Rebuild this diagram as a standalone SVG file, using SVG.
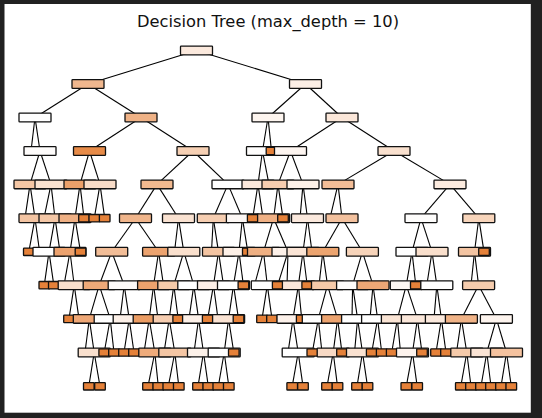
<svg xmlns="http://www.w3.org/2000/svg" width="542" height="418" viewBox="0 0 542 418">
<style>
.e line{stroke:#000;stroke-width:1.1;fill:none}
.n{stroke:#111;stroke-width:1.3}
.f{stroke:#111;stroke-width:1.3;fill:#e58139}
.t{font-family:"DejaVu Sans","Liberation Sans",sans-serif;font-size:16.3px;fill:#111;text-anchor:middle}
</style>
<rect x="0" y="0" width="542" height="418" fill="#212121"/>
<rect x="4.5" y="4" width="526.3" height="408.7" fill="#ffffff"/>
<text class="t" x="268" y="26.5">Decision Tree (max_depth = 10)</text>
<g class="e" id="connectors">
<line x1="196.5" y1="50.5" x2="88" y2="84"/><line x1="196.5" y1="50.5" x2="305.5" y2="84"/>
<line x1="88" y1="84" x2="35" y2="117.5"/><line x1="88" y1="84" x2="141" y2="117.5"/><line x1="305.5" y1="84" x2="268" y2="117.5"/><line x1="305.5" y1="84" x2="342" y2="117.5"/>
<line x1="35" y1="117.5" x2="31" y2="151"/><line x1="35" y1="117.5" x2="40" y2="151"/><line x1="141" y1="117.5" x2="89.5" y2="151"/><line x1="141" y1="117.5" x2="193" y2="151"/><line x1="268" y1="117.5" x2="262.5" y2="151"/><line x1="268" y1="117.5" x2="271.5" y2="151"/><line x1="342" y1="117.5" x2="290.5" y2="151"/><line x1="342" y1="117.5" x2="394" y2="151"/>
<line x1="40" y1="151" x2="30" y2="184.4"/><line x1="40" y1="151" x2="51" y2="184.4"/><line x1="89.5" y1="151" x2="80" y2="184.4"/><line x1="89.5" y1="151" x2="100" y2="184.4"/><line x1="193" y1="151" x2="157" y2="184.4"/><line x1="193" y1="151" x2="228" y2="184.4"/><line x1="262.5" y1="151" x2="258" y2="184.4"/><line x1="262.5" y1="151" x2="269" y2="184.4"/><line x1="290.5" y1="151" x2="278" y2="184.4"/><line x1="290.5" y1="151" x2="303" y2="184.4"/><line x1="394" y1="151" x2="338" y2="184.4"/><line x1="394" y1="151" x2="450" y2="184.4"/>
<line x1="30" y1="184.4" x2="25" y2="218.2"/><line x1="30" y1="184.4" x2="35" y2="218.2"/><line x1="51" y1="184.4" x2="44" y2="218.2"/><line x1="51" y1="184.4" x2="55" y2="218.2"/><line x1="80" y1="184.4" x2="75" y2="218.2"/><line x1="80" y1="184.4" x2="84" y2="218.2"/><line x1="100" y1="184.4" x2="94.3" y2="218.2"/><line x1="100" y1="184.4" x2="104.7" y2="218.2"/><line x1="157" y1="184.4" x2="135.5" y2="218.2"/><line x1="157" y1="184.4" x2="178.5" y2="218.2"/><line x1="228" y1="184.4" x2="213.3" y2="218.2"/><line x1="228" y1="184.4" x2="242.4" y2="218.2"/><line x1="258" y1="184.4" x2="252.7" y2="218.2"/><line x1="258" y1="184.4" x2="263" y2="218.2"/><line x1="278" y1="184.4" x2="273.6" y2="218.2"/><line x1="278" y1="184.4" x2="283" y2="218.2"/><line x1="303" y1="184.4" x2="300" y2="218.2"/><line x1="303" y1="184.4" x2="307.5" y2="218.2"/><line x1="338" y1="184.4" x2="330" y2="218.2"/><line x1="338" y1="184.4" x2="342" y2="218.2"/><line x1="450" y1="184.4" x2="421" y2="218.2"/><line x1="450" y1="184.4" x2="478.8" y2="218.2"/>
<line x1="35" y1="218.2" x2="28.8" y2="251.8"/><line x1="35" y1="218.2" x2="39.6" y2="251.8"/><line x1="55" y1="218.2" x2="49" y2="251.8"/><line x1="55" y1="218.2" x2="60" y2="251.8"/><line x1="75" y1="218.2" x2="70" y2="251.8"/><line x1="75" y1="218.2" x2="80.5" y2="251.8"/><line x1="135.5" y1="218.2" x2="111.7" y2="251.8"/><line x1="135.5" y1="218.2" x2="158.6" y2="251.8"/><line x1="178.5" y1="218.2" x2="174.5" y2="251.8"/><line x1="178.5" y1="218.2" x2="183.8" y2="251.8"/><line x1="213.3" y1="218.2" x2="211.5" y2="251.8"/><line x1="213.3" y1="218.2" x2="218.5" y2="251.8"/><line x1="242.4" y1="218.2" x2="239" y2="251.8"/><line x1="242.4" y1="218.2" x2="247.8" y2="251.8"/><line x1="273.6" y1="218.2" x2="263.5" y2="251.8"/><line x1="273.6" y1="218.2" x2="288" y2="251.8"/><line x1="307.5" y1="218.2" x2="303" y2="251.8"/><line x1="307.5" y1="218.2" x2="312" y2="251.8"/><line x1="342" y1="218.2" x2="322.8" y2="251.8"/><line x1="342" y1="218.2" x2="362.4" y2="251.8"/><line x1="421" y1="218.2" x2="412" y2="251.8"/><line x1="421" y1="218.2" x2="432" y2="251.8"/><line x1="478.8" y1="218.2" x2="474.5" y2="251.8"/><line x1="478.8" y1="218.2" x2="484" y2="251.8"/>
<line x1="49" y1="251.8" x2="44.3" y2="285.2"/><line x1="49" y1="251.8" x2="53.8" y2="285.2"/><line x1="70" y1="251.8" x2="64" y2="285.2"/><line x1="70" y1="251.8" x2="74.2" y2="285.2"/><line x1="111.7" y1="251.8" x2="99.2" y2="285.2"/><line x1="111.7" y1="251.8" x2="124.2" y2="285.2"/><line x1="158.6" y1="251.8" x2="153.6" y2="285.2"/><line x1="158.6" y1="251.8" x2="163.5" y2="285.2"/><line x1="183.8" y1="251.8" x2="173.8" y2="285.2"/><line x1="183.8" y1="251.8" x2="193.8" y2="285.2"/><line x1="218.5" y1="251.8" x2="213.5" y2="285.2"/><line x1="218.5" y1="251.8" x2="223.5" y2="285.2"/><line x1="239" y1="251.8" x2="233.5" y2="285.2"/><line x1="239" y1="251.8" x2="243.4" y2="285.2"/><line x1="263.5" y1="251.8" x2="254.5" y2="285.2"/><line x1="263.5" y1="251.8" x2="267.3" y2="285.2"/><line x1="288" y1="251.8" x2="277.7" y2="285.2"/><line x1="288" y1="251.8" x2="287" y2="285.2"/><line x1="303" y1="251.8" x2="298.4" y2="285.2"/><line x1="303" y1="251.8" x2="307.2" y2="285.2"/><line x1="322.8" y1="251.8" x2="319" y2="285.2"/><line x1="322.8" y1="251.8" x2="327.5" y2="285.2"/><line x1="362.4" y1="251.8" x2="352.6" y2="285.2"/><line x1="362.4" y1="251.8" x2="373" y2="285.2"/><line x1="412" y1="251.8" x2="406.3" y2="285.2"/><line x1="412" y1="251.8" x2="415.8" y2="285.2"/><line x1="432" y1="251.8" x2="426.8" y2="285.2"/><line x1="432" y1="251.8" x2="436.8" y2="285.2"/><line x1="474.5" y1="251.8" x2="471" y2="285.2"/><line x1="474.5" y1="251.8" x2="478.6" y2="285.2"/>
<line x1="74.2" y1="285.2" x2="69" y2="318.9"/><line x1="74.2" y1="285.2" x2="79" y2="318.9"/><line x1="99.2" y1="285.2" x2="89.3" y2="318.9"/><line x1="99.2" y1="285.2" x2="110.2" y2="318.9"/><line x1="124.2" y1="285.2" x2="120" y2="318.9"/><line x1="124.2" y1="285.2" x2="129.2" y2="318.9"/><line x1="153.6" y1="285.2" x2="149.2" y2="318.9"/><line x1="153.6" y1="285.2" x2="158" y2="318.9"/><line x1="173.8" y1="285.2" x2="169.2" y2="318.9"/><line x1="173.8" y1="285.2" x2="178.2" y2="318.9"/><line x1="193.8" y1="285.2" x2="189" y2="318.9"/><line x1="193.8" y1="285.2" x2="198.6" y2="318.9"/><line x1="213.5" y1="285.2" x2="207.7" y2="318.9"/><line x1="213.5" y1="285.2" x2="218" y2="318.9"/><line x1="233.5" y1="285.2" x2="228.6" y2="318.9"/><line x1="233.5" y1="285.2" x2="238.5" y2="318.9"/><line x1="267.3" y1="285.2" x2="262" y2="318.9"/><line x1="267.3" y1="285.2" x2="272" y2="318.9"/><line x1="298.4" y1="285.2" x2="293" y2="318.9"/><line x1="298.4" y1="285.2" x2="301.7" y2="318.9"/><line x1="327.5" y1="285.2" x2="318.3" y2="318.9"/><line x1="327.5" y1="285.2" x2="337.6" y2="318.9"/><line x1="352.6" y1="285.2" x2="352" y2="318.9"/><line x1="352.6" y1="285.2" x2="357.6" y2="318.9"/><line x1="373" y1="285.2" x2="370" y2="318.9"/><line x1="373" y1="285.2" x2="377.6" y2="318.9"/><line x1="406.3" y1="285.2" x2="397.4" y2="318.9"/><line x1="406.3" y1="285.2" x2="417.4" y2="318.9"/><line x1="436.8" y1="285.2" x2="434" y2="318.9"/><line x1="436.8" y1="285.2" x2="441.4" y2="318.9"/><line x1="478.6" y1="285.2" x2="461.4" y2="318.9"/><line x1="478.6" y1="285.2" x2="496.4" y2="318.9"/>
<line x1="89.3" y1="318.9" x2="85" y2="352.5"/><line x1="89.3" y1="318.9" x2="94.2" y2="352.5"/><line x1="110.2" y1="318.9" x2="104.2" y2="352.5"/><line x1="110.2" y1="318.9" x2="114" y2="352.5"/><line x1="129.2" y1="318.9" x2="124" y2="352.5"/><line x1="129.2" y1="318.9" x2="134" y2="352.5"/><line x1="149.2" y1="318.9" x2="144" y2="352.5"/><line x1="149.2" y1="318.9" x2="154.8" y2="352.5"/><line x1="169.2" y1="318.9" x2="164" y2="352.5"/><line x1="169.2" y1="318.9" x2="174.8" y2="352.5"/><line x1="198.6" y1="318.9" x2="194" y2="352.5"/><line x1="198.6" y1="318.9" x2="203.5" y2="352.5"/><line x1="228.6" y1="318.9" x2="224.2" y2="352.5"/><line x1="228.6" y1="318.9" x2="233.8" y2="352.5"/><line x1="293" y1="318.9" x2="288" y2="352.5"/><line x1="293" y1="318.9" x2="298.2" y2="352.5"/><line x1="318.3" y1="318.9" x2="312.3" y2="352.5"/><line x1="318.3" y1="318.9" x2="322" y2="352.5"/><line x1="337.6" y1="318.9" x2="333.2" y2="352.5"/><line x1="337.6" y1="318.9" x2="342" y2="352.5"/><line x1="357.6" y1="318.9" x2="354.5" y2="352.5"/><line x1="357.6" y1="318.9" x2="362.5" y2="352.5"/><line x1="377.6" y1="318.9" x2="371.7" y2="352.5"/><line x1="377.6" y1="318.9" x2="381.7" y2="352.5"/><line x1="397.4" y1="318.9" x2="391.7" y2="352.5"/><line x1="397.4" y1="318.9" x2="400.5" y2="352.5"/><line x1="417.4" y1="318.9" x2="412.5" y2="352.5"/><line x1="417.4" y1="318.9" x2="422" y2="352.5"/><line x1="441.4" y1="318.9" x2="436" y2="352.5"/><line x1="441.4" y1="318.9" x2="446" y2="352.5"/><line x1="461.4" y1="318.9" x2="456.5" y2="352.5"/><line x1="461.4" y1="318.9" x2="466.8" y2="352.5"/><line x1="496.4" y1="318.9" x2="486.8" y2="352.5"/><line x1="496.4" y1="318.9" x2="506.5" y2="352.5"/>
<line x1="94.2" y1="352.5" x2="88.8" y2="386.3"/><line x1="94.2" y1="352.5" x2="100" y2="386.3"/><line x1="154.8" y1="352.5" x2="148" y2="386.3"/><line x1="154.8" y1="352.5" x2="158.3" y2="386.3"/><line x1="174.8" y1="352.5" x2="168.3" y2="386.3"/><line x1="174.8" y1="352.5" x2="178.8" y2="386.3"/><line x1="203.5" y1="352.5" x2="198" y2="386.3"/><line x1="203.5" y1="352.5" x2="208.3" y2="386.3"/><line x1="224.2" y1="352.5" x2="218.3" y2="386.3"/><line x1="224.2" y1="352.5" x2="228.8" y2="386.3"/><line x1="298.2" y1="352.5" x2="292.2" y2="386.3"/><line x1="298.2" y1="352.5" x2="303" y2="386.3"/><line x1="333.2" y1="352.5" x2="327" y2="386.3"/><line x1="333.2" y1="352.5" x2="337.5" y2="386.3"/><line x1="362.5" y1="352.5" x2="357" y2="386.3"/><line x1="362.5" y1="352.5" x2="367.5" y2="386.3"/><line x1="412.5" y1="352.5" x2="406.3" y2="386.3"/><line x1="412.5" y1="352.5" x2="417.2" y2="386.3"/><line x1="466.8" y1="352.5" x2="460.8" y2="386.3"/><line x1="466.8" y1="352.5" x2="471" y2="386.3"/><line x1="486.8" y1="352.5" x2="481" y2="386.3"/><line x1="486.8" y1="352.5" x2="491" y2="386.3"/><line x1="506.5" y1="352.5" x2="501" y2="386.3"/><line x1="506.5" y1="352.5" x2="511.3" y2="386.3"/>
</g>
<g id="nodes">
<g id="n0_0"><rect class="n" x="180.5" y="46.15" width="32" height="8.7" rx="0.7" fill="#fbe9dd"/></g>
<g id="n1_0"><rect class="n" x="72" y="79.65" width="32" height="8.7" rx="0.7" fill="#f0b78e"/></g>
<g id="n1_1"><rect class="n" x="289.5" y="79.65" width="32" height="8.7" rx="0.7" fill="#fcefe6"/></g>
<g id="n2_0"><rect class="n" x="19" y="113.15" width="32" height="8.7" rx="0.7" fill="#ffffff"/></g>
<g id="n2_1"><rect class="n" x="125" y="113.15" width="32" height="8.7" rx="0.7" fill="#efb286"/></g>
<g id="n2_2"><rect class="n" x="252" y="113.15" width="32" height="8.7" rx="0.7" fill="#fdf5ef"/></g>
<g id="n2_3"><rect class="n" x="326" y="113.15" width="32" height="8.7" rx="0.7" fill="#fbe7d9"/></g>
<g id="n3_0"><rect class="n" x="24" y="146.65" width="32" height="8.7" rx="0.7" fill="#fefcfb"/></g>
<g id="n3_1"><rect class="n" x="73.5" y="146.65" width="32" height="8.7" rx="0.7" fill="#e78b48"/></g>
<g id="n3_2"><rect class="n" x="177" y="146.65" width="32" height="8.7" rx="0.7" fill="#f6d0b4"/></g>
<g id="n3_3"><rect class="n" x="246.5" y="146.65" width="32" height="8.7" rx="0.7" fill="#fefdfc"/></g>
<g id="n3_4"><rect class="f" x="266.2" y="147.3" width="10.6" height="7.4" rx="0.6"/></g>
<g id="n3_5"><rect class="n" x="274.5" y="146.65" width="32" height="8.7" rx="0.7" fill="#fdf5f0"/></g>
<g id="n3_6"><rect class="n" x="378" y="146.65" width="32" height="8.7" rx="0.7" fill="#f9e0ce"/></g>
<g id="n4_0"><rect class="n" x="14" y="180.05" width="32" height="8.7" rx="0.7" fill="#f4c6a4"/></g>
<g id="n4_1"><rect class="n" x="35" y="180.05" width="32" height="8.7" rx="0.7" fill="#fae2d0"/></g>
<g id="n4_2"><rect class="n" x="64" y="180.05" width="32" height="8.7" rx="0.7" fill="#eba06a"/></g>
<g id="n4_3"><rect class="n" x="84" y="180.05" width="32" height="8.7" rx="0.7" fill="#f8dcc8"/></g>
<g id="n4_4"><rect class="n" x="141" y="180.05" width="32" height="8.7" rx="0.7" fill="#f1b98f"/></g>
<g id="n4_5"><rect class="n" x="212" y="180.05" width="32" height="8.7" rx="0.7" fill="#ffffff"/></g>
<g id="n4_6"><rect class="n" x="242" y="180.05" width="32" height="8.7" rx="0.7" fill="#fbe8db"/></g>
<g id="n4_7"><rect class="n" x="262" y="180.05" width="32" height="8.7" rx="0.7" fill="#f6cdb0"/></g>
<g id="n4_8"><rect class="n" x="287" y="180.05" width="32" height="8.7" rx="0.7" fill="#fdf1e9"/></g>
<g id="n4_9"><rect class="n" x="322" y="180.05" width="32" height="8.7" rx="0.7" fill="#f2bd97"/></g>
<g id="n4_10"><rect class="n" x="434" y="180.05" width="32" height="8.7" rx="0.7" fill="#fcebdf"/></g>
<g id="n5_0"><rect class="n" x="19" y="213.85" width="32" height="8.7" rx="0.7" fill="#f3c4a2"/></g>
<g id="n5_1"><rect class="n" x="39" y="213.85" width="32" height="8.7" rx="0.7" fill="#f4c7a6"/></g>
<g id="n5_2"><rect class="n" x="59" y="213.85" width="32" height="8.7" rx="0.7" fill="#efb084"/></g>
<g id="n5_3"><rect class="f" x="78.7" y="214.5" width="10.6" height="7.4" rx="0.6"/></g>
<g id="n5_4"><rect class="f" x="89" y="214.5" width="10.6" height="7.4" rx="0.6"/></g>
<g id="n5_5"><rect class="f" x="99.4" y="214.5" width="10.6" height="7.4" rx="0.6"/></g>
<g id="n5_6"><rect class="n" x="119.5" y="213.85" width="32" height="8.7" rx="0.7" fill="#f0b58b"/></g>
<g id="n5_7"><rect class="n" x="162.5" y="213.85" width="32" height="8.7" rx="0.7" fill="#fae2d1"/></g>
<g id="n5_8"><rect class="n" x="197.3" y="213.85" width="32" height="8.7" rx="0.7" fill="#f6ceb1"/></g>
<g id="n5_9"><rect class="n" x="226.4" y="213.85" width="32" height="8.7" rx="0.7" fill="#fdf8f5"/></g>
<g id="n5_10"><rect class="f" x="247.4" y="214.5" width="10.6" height="7.4" rx="0.6"/></g>
<g id="n5_11"><rect class="n" x="257.6" y="213.85" width="32" height="8.7" rx="0.7" fill="#efb084"/></g>
<g id="n5_12"><rect class="f" x="277.7" y="214.5" width="10.6" height="7.4" rx="0.6"/></g>
<g id="n5_13"><rect class="n" x="291.5" y="213.85" width="32" height="8.7" rx="0.7" fill="#fbe9dd"/></g>
<g id="n5_14"><rect class="n" x="326" y="213.85" width="32" height="8.7" rx="0.7" fill="#f3c19e"/></g>
<g id="n5_15"><rect class="n" x="405" y="213.85" width="32" height="8.7" rx="0.7" fill="#fefdfc"/></g>
<g id="n5_16"><rect class="n" x="462.8" y="213.85" width="32" height="8.7" rx="0.7" fill="#f8d5bb"/></g>
<g id="n6_0"><rect class="f" x="23.5" y="248.1" width="10.6" height="7.4" rx="0.6"/></g>
<g id="n6_1"><rect class="n" x="33" y="247.45" width="32" height="8.7" rx="0.7" fill="#ffffff"/></g>
<g id="n6_2"><rect class="n" x="54" y="247.45" width="32" height="8.7" rx="0.7" fill="#eca26e"/></g>
<g id="n6_3"><rect class="f" x="75.2" y="248.1" width="10.6" height="7.4" rx="0.6"/></g>
<g id="n6_4"><rect class="n" x="95.7" y="247.45" width="32" height="8.7" rx="0.7" fill="#f2bd97"/></g>
<g id="n6_5"><rect class="n" x="142.6" y="247.45" width="32" height="8.7" rx="0.7" fill="#eca36f"/></g>
<g id="n6_6"><rect class="n" x="167.8" y="247.45" width="32" height="8.7" rx="0.7" fill="#fae0cd"/></g>
<g id="n6_7"><rect class="n" x="202.5" y="247.45" width="32" height="8.7" rx="0.7" fill="#f3c4a2"/></g>
<g id="n6_8"><rect class="n" x="223" y="247.45" width="32" height="8.7" rx="0.7" fill="#fcefe6"/></g>
<g id="n6_9"><rect class="f" x="242.5" y="248.1" width="10.6" height="7.4" rx="0.6"/></g>
<g id="n6_10"><rect class="n" x="247.5" y="247.45" width="32" height="8.7" rx="0.7" fill="#efb083"/></g>
<g id="n6_11"><rect class="n" x="272" y="247.45" width="32" height="8.7" rx="0.7" fill="#fcf0e8"/></g>
<g id="n6_12"><rect class="n" x="287" y="247.45" width="32" height="8.7" rx="0.7" fill="#fae4d5"/></g>
<g id="n6_13"><rect class="n" x="306.8" y="247.45" width="32" height="8.7" rx="0.7" fill="#eca46f"/></g>
<g id="n6_14"><rect class="n" x="346.4" y="247.45" width="32" height="8.7" rx="0.7" fill="#f7d4ba"/></g>
<g id="n6_15"><rect class="n" x="396" y="247.45" width="32" height="8.7" rx="0.7" fill="#ffffff"/></g>
<g id="n6_16"><rect class="n" x="416" y="247.45" width="32" height="8.7" rx="0.7" fill="#f9dfcc"/></g>
<g id="n6_17"><rect class="n" x="458.5" y="247.45" width="32" height="8.7" rx="0.7" fill="#f3c4a2"/></g>
<g id="n6_18"><rect class="f" x="478.7" y="248.1" width="10.6" height="7.4" rx="0.6"/></g>
<g id="n7_0"><rect class="f" x="39" y="281.5" width="10.6" height="7.4" rx="0.6"/></g>
<g id="n7_1"><rect class="f" x="48.5" y="281.5" width="10.6" height="7.4" rx="0.6"/></g>
<g id="n7_2"><rect class="n" x="58.2" y="280.85" width="32" height="8.7" rx="0.7" fill="#f9dfcc"/></g>
<g id="n7_3"><rect class="n" x="83.2" y="280.85" width="32" height="8.7" rx="0.7" fill="#eea978"/></g>
<g id="n7_4"><rect class="n" x="108.2" y="280.85" width="32" height="8.7" rx="0.7" fill="#fdfaf8"/></g>
<g id="n7_5"><rect class="n" x="137.6" y="280.85" width="32" height="8.7" rx="0.7" fill="#eca26d"/></g>
<g id="n7_6"><rect class="n" x="157.8" y="280.85" width="32" height="8.7" rx="0.7" fill="#f5caa9"/></g>
<g id="n7_7"><rect class="n" x="177.8" y="280.85" width="32" height="8.7" rx="0.7" fill="#ffffff"/></g>
<g id="n7_8"><rect class="n" x="197.5" y="280.85" width="32" height="8.7" rx="0.7" fill="#fcefe7"/></g>
<g id="n7_9"><rect class="n" x="217.5" y="280.85" width="32" height="8.7" rx="0.7" fill="#ffffff"/></g>
<g id="n7_10"><rect class="f" x="238.1" y="281.5" width="10.6" height="7.4" rx="0.6"/></g>
<g id="n7_11"><rect class="n" x="251.3" y="280.85" width="32" height="8.7" rx="0.7" fill="#ffffff"/></g>
<g id="n7_12"><rect class="f" x="272.4" y="281.5" width="10.6" height="7.4" rx="0.6"/></g>
<g id="n7_13"><rect class="n" x="282.4" y="280.85" width="32" height="8.7" rx="0.7" fill="#fbe7da"/></g>
<g id="n7_14"><rect class="f" x="301.9" y="281.5" width="10.6" height="7.4" rx="0.6"/></g>
<g id="n7_15"><rect class="n" x="311.5" y="280.85" width="32" height="8.7" rx="0.7" fill="#f5caa9"/></g>
<g id="n7_16"><rect class="n" x="336.6" y="280.85" width="32" height="8.7" rx="0.7" fill="#fefcfa"/></g>
<g id="n7_17"><rect class="n" x="357" y="280.85" width="32" height="8.7" rx="0.7" fill="#eda776"/></g>
<g id="n7_18"><rect class="n" x="390.3" y="280.85" width="32" height="8.7" rx="0.7" fill="#fdf8f4"/></g>
<g id="n7_19"><rect class="f" x="410.5" y="281.5" width="10.6" height="7.4" rx="0.6"/></g>
<g id="n7_20"><rect class="n" x="420.8" y="280.85" width="32" height="8.7" rx="0.7" fill="#ffffff"/></g>
<g id="n7_21"><rect class="n" x="462.6" y="280.85" width="32" height="8.7" rx="0.7" fill="#f5ccad"/></g>
<g id="n8_0"><rect class="f" x="63.7" y="315.2" width="10.6" height="7.4" rx="0.6"/></g>
<g id="n8_1"><rect class="n" x="73.3" y="314.55" width="32" height="8.7" rx="0.7" fill="#eea776"/></g>
<g id="n8_2"><rect class="n" x="94.2" y="314.55" width="32" height="8.7" rx="0.7" fill="#ffffff"/></g>
<g id="n8_3"><rect class="n" x="113.2" y="314.55" width="32" height="8.7" rx="0.7" fill="#fcf0e8"/></g>
<g id="n8_4"><rect class="n" x="133.2" y="314.55" width="32" height="8.7" rx="0.7" fill="#eb9c63"/></g>
<g id="n8_5"><rect class="n" x="153.2" y="314.55" width="32" height="8.7" rx="0.7" fill="#f6cdb0"/></g>
<g id="n8_6"><rect class="f" x="172.9" y="315.2" width="10.6" height="7.4" rx="0.6"/></g>
<g id="n8_7"><rect class="n" x="182.6" y="314.55" width="32" height="8.7" rx="0.7" fill="#fcf0e8"/></g>
<g id="n8_8"><rect class="f" x="202.4" y="315.2" width="10.6" height="7.4" rx="0.6"/></g>
<g id="n8_9"><rect class="n" x="212.6" y="314.55" width="32" height="8.7" rx="0.7" fill="#fae3d3"/></g>
<g id="n8_10"><rect class="f" x="233.2" y="315.2" width="10.6" height="7.4" rx="0.6"/></g>
<g id="n8_11"><rect class="f" x="256.7" y="315.2" width="10.6" height="7.4" rx="0.6"/></g>
<g id="n8_12"><rect class="f" x="266.7" y="315.2" width="10.6" height="7.4" rx="0.6"/></g>
<g id="n8_13"><rect class="n" x="277" y="314.55" width="32" height="8.7" rx="0.7" fill="#fcf1ea"/></g>
<g id="n8_14"><rect class="f" x="296.4" y="315.2" width="10.6" height="7.4" rx="0.6"/></g>
<g id="n8_15"><rect class="n" x="302.3" y="314.55" width="32" height="8.7" rx="0.7" fill="#ffffff"/></g>
<g id="n8_16"><rect class="n" x="321.6" y="314.55" width="32" height="8.7" rx="0.7" fill="#eca36f"/></g>
<g id="n8_17"><rect class="n" x="341.6" y="314.55" width="32" height="8.7" rx="0.7" fill="#ffffff"/></g>
<g id="n8_18"><rect class="n" x="361.6" y="314.55" width="32" height="8.7" rx="0.7" fill="#ffffff"/></g>
<g id="n8_19"><rect class="n" x="381.4" y="314.55" width="32" height="8.7" rx="0.7" fill="#fae4d4"/></g>
<g id="n8_20"><rect class="n" x="401.4" y="314.55" width="32" height="8.7" rx="0.7" fill="#fbe7da"/></g>
<g id="n8_21"><rect class="n" x="425.4" y="314.55" width="32" height="8.7" rx="0.7" fill="#fbe9dd"/></g>
<g id="n8_22"><rect class="n" x="445.4" y="314.55" width="32" height="8.7" rx="0.7" fill="#f0b387"/></g>
<g id="n8_23"><rect class="n" x="480.4" y="314.55" width="32" height="8.7" rx="0.7" fill="#fdf4ee"/></g>
<g id="n9_0"><rect class="n" x="78.2" y="348.15" width="32" height="8.7" rx="0.7" fill="#f9e0ce"/></g>
<g id="n9_1"><rect class="f" x="98.9" y="348.8" width="10.6" height="7.4" rx="0.6"/></g>
<g id="n9_2"><rect class="f" x="108.7" y="348.8" width="10.6" height="7.4" rx="0.6"/></g>
<g id="n9_3"><rect class="f" x="118.7" y="348.8" width="10.6" height="7.4" rx="0.6"/></g>
<g id="n9_4"><rect class="f" x="128.7" y="348.8" width="10.6" height="7.4" rx="0.6"/></g>
<g id="n9_5"><rect class="n" x="138.8" y="348.15" width="32" height="8.7" rx="0.7" fill="#eeab7b"/></g>
<g id="n9_6"><rect class="n" x="158.8" y="348.15" width="32" height="8.7" rx="0.7" fill="#f4c6a4"/></g>
<g id="n9_7"><rect class="n" x="187.5" y="348.15" width="32" height="8.7" rx="0.7" fill="#fcf1e9"/></g>
<g id="n9_8"><rect class="n" x="208.2" y="348.15" width="32" height="8.7" rx="0.7" fill="#ffffff"/></g>
<g id="n9_9"><rect class="f" x="228.5" y="348.8" width="10.6" height="7.4" rx="0.6"/></g>
<g id="n9_10"><rect class="n" x="282.2" y="348.15" width="32" height="8.7" rx="0.7" fill="#ffffff"/></g>
<g id="n9_11"><rect class="f" x="307" y="348.8" width="10.6" height="7.4" rx="0.6"/></g>
<g id="n9_12"><rect class="n" x="317.2" y="348.15" width="32" height="8.7" rx="0.7" fill="#f8dac5"/></g>
<g id="n9_13"><rect class="f" x="336.7" y="348.8" width="10.6" height="7.4" rx="0.6"/></g>
<g id="n9_14"><rect class="n" x="346.5" y="348.15" width="32" height="8.7" rx="0.7" fill="#fae2d1"/></g>
<g id="n9_15"><rect class="f" x="366.4" y="348.8" width="10.6" height="7.4" rx="0.6"/></g>
<g id="n9_16"><rect class="f" x="376.4" y="348.8" width="10.6" height="7.4" rx="0.6"/></g>
<g id="n9_17"><rect class="f" x="386.4" y="348.8" width="10.6" height="7.4" rx="0.6"/></g>
<g id="n9_18"><rect class="n" x="396.5" y="348.15" width="32" height="8.7" rx="0.7" fill="#fdf3ed"/></g>
<g id="n9_19"><rect class="f" x="416.7" y="348.8" width="10.6" height="7.4" rx="0.6"/></g>
<g id="n9_20"><rect class="f" x="430.7" y="348.8" width="10.6" height="7.4" rx="0.6"/></g>
<g id="n9_21"><rect class="f" x="440.7" y="348.8" width="10.6" height="7.4" rx="0.6"/></g>
<g id="n9_22"><rect class="n" x="450.8" y="348.15" width="32" height="8.7" rx="0.7" fill="#f5caaa"/></g>
<g id="n9_23"><rect class="n" x="470.8" y="348.15" width="32" height="8.7" rx="0.7" fill="#fae4d5"/></g>
<g id="n9_24"><rect class="n" x="490.5" y="348.15" width="32" height="8.7" rx="0.7" fill="#f4c29f"/></g>
<g id="n10_0"><rect class="f" x="83.5" y="382.6" width="10.6" height="7.4" rx="0.6"/></g>
<g id="n10_1"><rect class="f" x="94.7" y="382.6" width="10.6" height="7.4" rx="0.6" fill="#f2c4a3"/></g>
<g id="n10_2"><rect class="f" x="142.7" y="382.6" width="10.6" height="7.4" rx="0.6"/></g>
<g id="n10_3"><rect class="f" x="153" y="382.6" width="10.6" height="7.4" rx="0.6" fill="#eca16c"/></g>
<g id="n10_4"><rect class="f" x="163" y="382.6" width="10.6" height="7.4" rx="0.6" fill="#f1bd98"/></g>
<g id="n10_5"><rect class="f" x="173.5" y="382.6" width="10.6" height="7.4" rx="0.6"/></g>
<g id="n10_6"><rect class="f" x="192.7" y="382.6" width="10.6" height="7.4" rx="0.6"/></g>
<g id="n10_7"><rect class="f" x="203" y="382.6" width="10.6" height="7.4" rx="0.6"/></g>
<g id="n10_8"><rect class="f" x="213" y="382.6" width="10.6" height="7.4" rx="0.6"/></g>
<g id="n10_9"><rect class="f" x="223.5" y="382.6" width="10.6" height="7.4" rx="0.6"/></g>
<g id="n10_10"><rect class="f" x="286.9" y="382.6" width="10.6" height="7.4" rx="0.6"/></g>
<g id="n10_11"><rect class="f" x="297.7" y="382.6" width="10.6" height="7.4" rx="0.6" fill="#f7e7dc"/></g>
<g id="n10_12"><rect class="f" x="321.7" y="382.6" width="10.6" height="7.4" rx="0.6"/></g>
<g id="n10_13"><rect class="f" x="332.2" y="382.6" width="10.6" height="7.4" rx="0.6"/></g>
<g id="n10_14"><rect class="f" x="351.7" y="382.6" width="10.6" height="7.4" rx="0.6" fill="#f7f3f0"/></g>
<g id="n10_15"><rect class="f" x="362.2" y="382.6" width="10.6" height="7.4" rx="0.6"/></g>
<g id="n10_16"><rect class="f" x="401" y="382.6" width="10.6" height="7.4" rx="0.6" fill="#f5f0ec"/></g>
<g id="n10_17"><rect class="f" x="411.9" y="382.6" width="10.6" height="7.4" rx="0.6" fill="#f2c7a6"/></g>
<g id="n10_18"><rect class="f" x="455.5" y="382.6" width="10.6" height="7.4" rx="0.6" fill="#fbf8f6"/></g>
<g id="n10_19"><rect class="f" x="465.7" y="382.6" width="10.6" height="7.4" rx="0.6"/></g>
<g id="n10_20"><rect class="f" x="475.7" y="382.6" width="10.6" height="7.4" rx="0.6"/></g>
<g id="n10_21"><rect class="f" x="485.7" y="382.6" width="10.6" height="7.4" rx="0.6"/></g>
<g id="n10_22"><rect class="f" x="495.7" y="382.6" width="10.6" height="7.4" rx="0.6"/></g>
<g id="n10_23"><rect class="f" x="506" y="382.6" width="10.6" height="7.4" rx="0.6" fill="#f6efea"/></g>
</g>
</svg>
